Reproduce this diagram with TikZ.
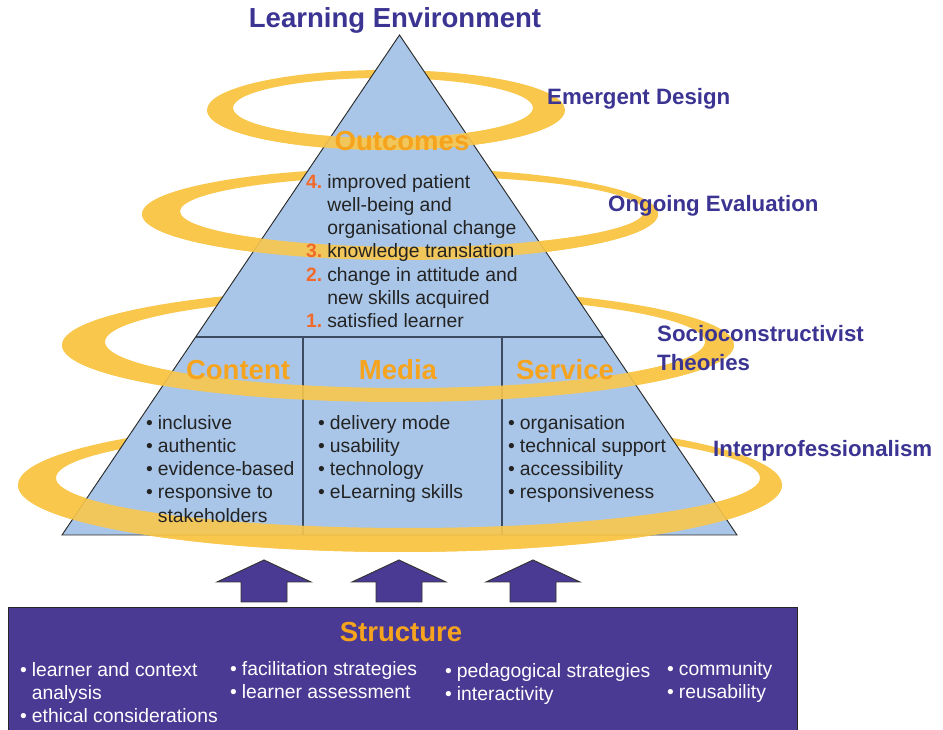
\documentclass[tikz,border=0pt]{standalone}
\usepackage{fontspec}
\setmainfont{Liberation Sans}
\usepackage{xcolor}
\usepackage{tikz}
\usetikzlibrary{calc}
\definecolor{pyrblue}{HTML}{A9C6E8}
\definecolor{ringgold}{HTML}{F9C74C}
\definecolor{headorange}{HTML}{F6A41E}
\definecolor{numred}{HTML}{F26A2B}
\definecolor{labblue}{HTML}{3B3492}
\definecolor{structpurple}{HTML}{4A3A94}
\definecolor{bodytext}{HTML}{232323}
\definecolor{edge}{HTML}{2A2A2A}
\definecolor{divider}{HTML}{3D4B60}
\newcommand{\bul}{\makebox[10pt][l]{\textbullet}}
\newcommand{\onum}[1]{\makebox[18pt][l]{\textcolor{numred}{\bfseries #1.}}}
\tikzset{
  pyramid/.style={fill=pyrblue},
  pyredge/.style={draw=edge, line width=0.8pt, line join=miter},
  divline/.style={draw=divider, line width=1pt},
  ring/.style={fill=ringgold, even odd rule},
  envlab/.style={text=labblue, font=\fontsize{23.5}{28}\selectfont\bfseries},
  ringlab/.style={text=labblue, font=\fontsize{19}{24.7}\selectfont\bfseries, inner sep=0pt},
  heading/.style={text=headorange, font=\fontsize{23.5}{28}\selectfont\bfseries},
  listtxt/.style={text=bodytext, font=\fontsize{16.5}{19.8}\selectfont, align=left, inner sep=0pt, anchor=north west},
  structtxt/.style={listtxt, text=white},
  structbox/.style={fill=structpurple, draw=black!85, line width=0.8pt},
  blockarr/.style={fill=structpurple, draw=black!80, line width=0.8pt, line join=miter}
}
% rings: outer centre/radii, inner centre/radii
\def\ringlist{386/620/179/40/383/622/150/30,
  400/516/258/46/412/518.5/232/35.5,
  398/385/336/57/405/388/300/46,
  400/245/382/67/408/252/352/50}

\begin{document}
\begin{tikzpicture}[x=0.03cm, y=0.03cm]
  \useasboundingbox (0,0) rectangle (943,730);
  \fill[white] (0,0) rectangle (943,730);

  % back of the rings
  \foreach \cx/\cy/\ra/\rb/\ix/\iy/\ia/\ib in \ringlist
    \fill[ring] (\cx,\cy) ellipse [x radius=\ra, y radius=\rb]
                (\ix,\iy) ellipse [x radius=\ia, y radius=\ib];

  \coordinate (T) at (399.5,695);
  \coordinate (BL) at (62,195);
  \coordinate (BR) at (737,195);
  \coordinate (ML) at ($(BL)!0.396!(T)$);
  \coordinate (MR) at ($(BR)!0.396!(T)$);
  \coordinate (D1) at (303,393);
  \coordinate (D2) at (502,393);

  \fill[pyramid] (T) -- (BL) -- (BR) -- cycle;
  \draw[divline] (ML) -- (MR);
  \draw[divline] (D1) -- (D1 |- BL);
  \draw[divline] (D2) -- (D2 |- BL);
  \draw[pyredge] (T) -- (BL) -- (BR) -- cycle;

  % front of the rings
  \foreach \cx/\cy/\ra/\rb/\ix/\iy/\ia/\ib in \ringlist {
    \begin{scope}
      \clip (0,0) rectangle (943,\cy);
      \fill[ring, opacity=0.9] (\cx,\cy) ellipse [x radius=\ra, y radius=\rb]
                               (\ix,\iy) ellipse [x radius=\ia, y radius=\ib];
    \end{scope}
  }

  \node[envlab] (learnenv) at (395,710) {Learning Environment};
  \node[ringlab, anchor=west] (emergent) at (547,631) {Emergent Design};
  \node[ringlab, anchor=west] (ongoing) at (608,524) {Ongoing Evaluation};
  \node[ringlab, anchor=west, align=left] (socio) at (657,382) {Socioconstructivist\\Theories};
  \node[ringlab, anchor=west] (interprof) at (713,279) {Interprofessionalism};

  \node[heading] (outcomes) at (402,589) {Outcomes};
  \node[listtxt] (outlist) at (306,556) {\onum{4}improved patient\\
    \hspace*{18pt}well-being and\\
    \hspace*{18pt}organisational change\\
    \onum{3}knowledge translation\\
    \onum{2}change in attitude and\\
    \hspace*{18pt}new skills acquired\\
    \onum{1}satisfied learner};

  \node[heading] (content) at (238,360) {Content};
  \node[heading] (media) at (398,360) {Media};
  \node[heading] (service) at (565,360) {Service};

  \node[listtxt] (contentlist) at (146,315) {\bul inclusive\\\bul authentic\\\bul evidence-based\\
    \bul responsive to\\\hspace*{10pt}stakeholders};
  \node[listtxt] (medialist) at (318,315) {\bul delivery mode\\\bul usability\\\bul technology\\
    \bul eLearning skills};
  \node[listtxt] (servicelist) at (508,315) {\bul organisation\\\bul technical support\\
    \bul accessibility\\\bul responsiveness};

  % arrows up from the structure box
  \foreach \ax in {264,399,533}
    \draw[blockarr] (\ax-23,128) -- (\ax+23,128) -- (\ax+23,148) -- (\ax+47,148)
      -- (\ax,170) -- (\ax-47,148) -- (\ax-23,148) -- cycle;

  \draw[structbox] (8,-5) rectangle (797,123);
  \node[heading] (structure) at (401,98) {Structure};
  \node[structtxt] (structa) at (20,68) {\bul learner and context\\\hspace*{10pt}analysis\\
    \bul ethical considerations};
  \node[structtxt] (structb) at (230,69) {\bul facilitation strategies\\\bul learner assessment};
  \node[structtxt] (structc) at (445,67) {\bul pedagogical strategies\\\bul interactivity};
  \node[structtxt] (structd) at (667,69) {\bul community\\\bul reusability};
\end{tikzpicture}
\end{document}
